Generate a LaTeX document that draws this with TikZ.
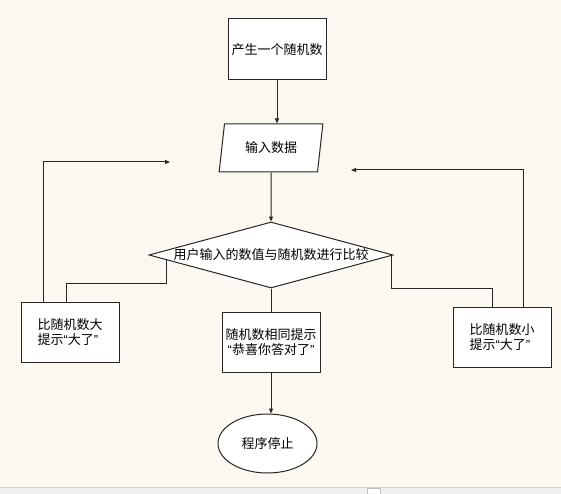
\documentclass[tikz,border=0pt]{standalone}
\usepackage{fontspec}
\newfontfamily\cjk{Noto Sans CJK SC}
\newfontfamily\lat{Liberation Sans}
\newcommand{\myoq}{{\lat “}}
\newcommand{\mycq}{{\lat ”}}
\usetikzlibrary{shapes.geometric,arrows.meta,calc}
\definecolor{bgc}{HTML}{FBF8F1}
\definecolor{linec}{HTML}{262626}
\begin{document}
\begin{tikzpicture}[x=1pt,y=-1pt,
  every node/.style={font=\cjk\fontsize{13}{15.5}\selectfont, text=black},
  boxstyle/.style={draw=linec, fill=white, line width=1pt, minimum width=98pt, minimum height=60pt, inner sep=0pt, align=center},
  conn/.style={draw=linec, line width=1pt},
  arr/.style={-{Triangle[length=5pt,width=4pt]}}]
\fill[bgc] (0,0) rectangle (561,494);
\useasboundingbox (0,0) rectangle (561,494);
% bottom strip
\fill[gray!12] (0,487) rectangle (561,494);
\draw[gray!35, line width=0.6pt] (0,487) -- (561,487);
\draw[gray!50, line width=0.6pt, fill=white] (367,488.5) rectangle (380,494);
% nodes
\node[boxstyle, minimum height=61pt] (gen) at (277,49.5) {产生一个随机数};
\node[trapezium, trapezium left angle=76, trapezium right angle=104, trapezium stretches=true,
      draw=linec, fill=white, line width=1pt, minimum width=104pt, minimum height=48pt, inner sep=0pt]
      (inp) at (271,148) {输入数据};
\node[diamond, draw=linec, fill=white, line width=1pt, minimum width=244pt, minimum height=66pt,
      inner sep=0pt, label={center:用户输入的数值与随机数进行比较}] (cmp) at (271,255) {};
\node[boxstyle, align=left] (lbig) at (70,332) {比随机数大\\提示\myoq 大了\mycq};
\node[boxstyle] (same) at (271,342) {随机数相同提示\\\myoq 恭喜你答对了\mycq};
\node[boxstyle, align=left] (rbig) at (502,337) {比随机数小\\提示\myoq 大了\mycq};
\node[ellipse, draw=linec, fill=white, line width=1pt, minimum width=99pt, minimum height=59pt,
      inner sep=0pt] (stop) at (267.5,443.5) {程序停止};
% helper coordinates
\coordinate (ljoin) at (66,283);
\coordinate (lcorner) at (43,162);
\coordinate (lend) at (170,162);
\coordinate (rjoin) at (492,288);
\coordinate (rcorner) at (523,170);
\coordinate (rend) at (351,170);
% connectors
\draw[conn, arr] (gen.south) -- (gen.south |- inp.north);
\draw[conn, arr] (inp.south) -- (cmp.north);
\draw[conn] (cmp.south) -- (cmp.south |- same.north);
\draw[conn, arr] (same.south) -- (same.south |- stop.north);
\draw[conn] ($(cmp.west)!0.15!(cmp.south)$) |- (ljoin) -- (ljoin |- lbig.north);
\draw[conn, arr] (lcorner |- lbig.north) -- (lcorner) -- (lend);
\draw[conn] ($(cmp.east)!0.02!(cmp.south)$) |- (rjoin) -- (rjoin |- rbig.north);
\draw[conn, arr] (rcorner |- rbig.north) -- (rcorner) -- (rend);
\end{tikzpicture}
\end{document}
